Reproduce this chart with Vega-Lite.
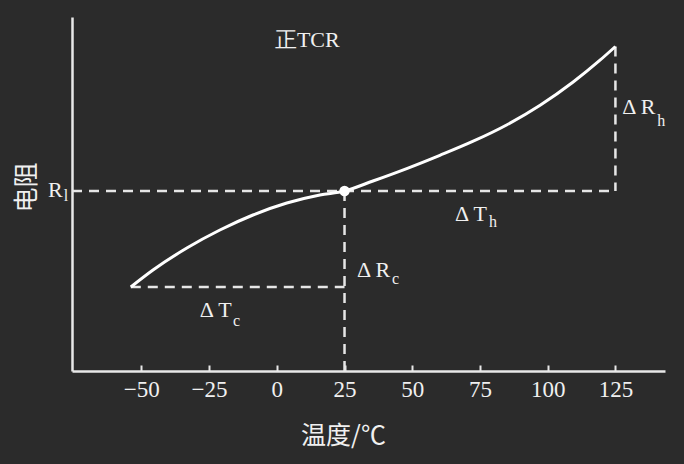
{
  "$schema": "https://vega.github.io/schema/vega-lite/v6.json",
  "autosize": "none",
  "width": 593,
  "height": 354,
  "padding": {"left": 72, "top": 17, "right": 19, "bottom": 93},
  "background": "#2b2b2b",
  "config": {"view": {"stroke": null}},
  "datasets": {
    "curve": [
      {"x": -53.9, "y": 84},
      {"x": -45.7, "y": 101},
      {"x": -33.2, "y": 123},
      {"x": -21.0, "y": 141},
      {"x": -8.8, "y": 156},
      {"x": 3.7, "y": 168},
      {"x": 15.9, "y": 176},
      {"x": 25, "y": 180},
      {"x": 35.5, "y": 190},
      {"x": 48.2, "y": 202.7},
      {"x": 60.2, "y": 215.7},
      {"x": 72.5, "y": 229.8},
      {"x": 85.0, "y": 246.3},
      {"x": 97.2, "y": 265.8},
      {"x": 109.4, "y": 289},
      {"x": 119.3, "y": 310.8},
      {"x": 125, "y": 324.5}
    ],
    "dashes": [
      {"x": -75.6, "y": 180, "x2": 125, "y2": 180},
      {"x": -53.9, "y": 84, "x2": 25, "y2": 84},
      {"x": 25, "y": 180, "x2": 25, "y2": 0},
      {"x": 125, "y": 324.5, "x2": 125, "y2": 180}
    ],
    "dot": [{"x": 25, "y": 180}],
    "labels": [
      {"x": -0.7, "y": 331, "label": "正TCR"},
      {"x": -84.5, "y": 181, "label": "R"},
      {"x": 127.5, "y": 264, "label": "Δ R"},
      {"x": 65.8, "y": 157, "label": "Δ T"},
      {"x": 29.6, "y": 101, "label": "Δ R"},
      {"x": -28.4, "y": 61, "label": "Δ T"}
    ],
    "subs": [
      {"x": -78.6, "y": 175, "label": "l"},
      {"x": 140.4, "y": 250, "label": "h"},
      {"x": 78.3, "y": 149, "label": "h"},
      {"x": 42.5, "y": 92, "label": "c"},
      {"x": -16.2, "y": 50, "label": "c"}
    ]
  },
  "encoding": {
    "x": {
      "field": "x",
      "type": "quantitative",
      "scale": {"domain": [-75.6, 143.3], "nice": false, "zero": false},
      "axis": {
        "title": "温度/℃",
        "values": [-50, -25, 0, 25, 50, 75, 100, 125],
        "grid": false,
        "domainColor": "#e8e8e8",
        "domainWidth": 2.5,
        "tickColor": "#e8e8e8",
        "tickWidth": 2,
        "tickSize": -6,
        "labelFont": "Liberation Serif",
        "labelFontSize": 23,
        "labelColor": "#f0f0f0",
        "labelPadding": 13,
        "labelFlush": false,
        "labelOverlap": false,
        "titleFont": "Noto Sans CJK SC",
        "titleFontSize": 25,
        "titleFontWeight": "normal",
        "titleColor": "#f0f0f0",
        "titleX": 271,
        "titleY": 64,
        "titleAlign": "center",
        "titleBaseline": "middle"
      }
    },
    "y": {
      "field": "y",
      "type": "quantitative",
      "scale": {"domain": [0, 354], "nice": false, "zero": false},
      "axis": {
        "title": "电阻",
        "labels": false,
        "ticks": false,
        "grid": false,
        "domainColor": "#e8e8e8",
        "domainWidth": 2.5,
        "titleFont": "Noto Sans CJK SC",
        "titleFontSize": 25,
        "titleFontWeight": "normal",
        "titleColor": "#f0f0f0",
        "titleX": -46,
        "titleY": 170,
        "titleAlign": "center",
        "titleBaseline": "middle"
      }
    }
  },
  "layer": [
    {
      "data": {"name": "dashes"},
      "mark": {"type": "rule", "color": "#e6e6e6", "strokeWidth": 2.5, "strokeDash": [10, 7]},
      "encoding": {
        "x2": {"field": "x2"},
        "y2": {"field": "y2"}
      }
    },
    {
      "data": {"name": "curve"},
      "mark": {"type": "line", "color": "#ffffff", "strokeWidth": 3, "interpolate": "monotone"},
      "encoding": {}
    },
    {
      "data": {"name": "dot"},
      "mark": {"type": "point", "shape": "circle", "filled": true, "color": "#ffffff", "size": 110, "opacity": 1}
    },
    {
      "data": {"name": "labels"},
      "mark": {"type": "text", "align": "left", "baseline": "middle", "font": "Liberation Serif", "fontSize": 22, "color": "#f0f0f0", "clip": false},
      "encoding": {"text": {"field": "label"}}
    },
    {
      "data": {"name": "subs"},
      "mark": {"type": "text", "align": "left", "baseline": "middle", "font": "Liberation Serif", "fontSize": 16, "color": "#f0f0f0", "clip": false},
      "encoding": {"text": {"field": "label"}}
    }
  ]
}
